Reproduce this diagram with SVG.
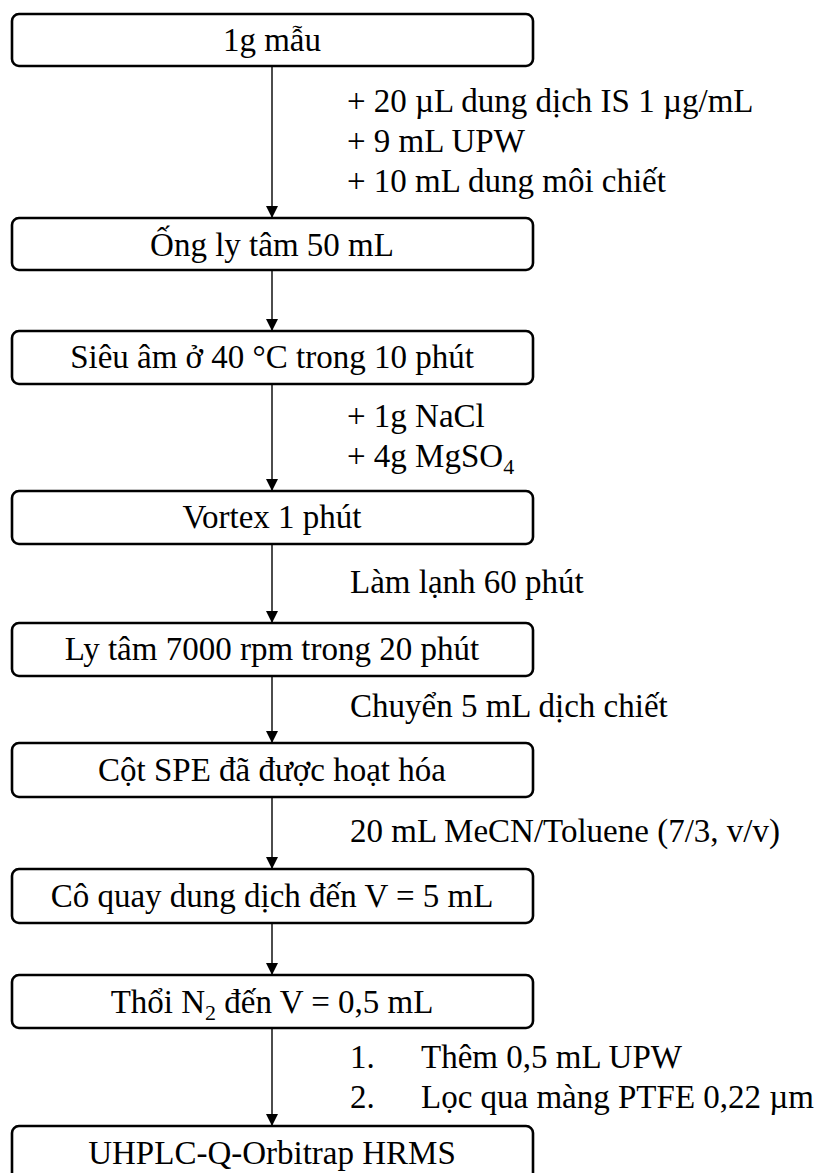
<svg xmlns="http://www.w3.org/2000/svg" width="821" height="1173" viewBox="0 0 821 1173">
  <defs>
    <marker id="arr" markerWidth="14" markerHeight="12" refX="14" refY="7" viewBox="0 0 14 14" markerUnits="userSpaceOnUse" orient="auto">
      <path d="M0,0 L14,7 L0,14 Z" fill="#000"/>
    </marker>
    <style>
      .box { fill: #fff; stroke: #000; stroke-width: 2.6; }
      .t { font-family: "Liberation Serif", "Times New Roman", serif; font-size: 33px; fill: #000; }
      .c { text-anchor: middle; }
      .con { stroke: #000; stroke-width: 1.4; fill: none; marker-end: url(#arr); }
    </style>
  </defs>
  <rect width="821" height="1173" fill="#fff"/>

  <g id="connectors">
    <line class="con" x1="272" y1="66" x2="272" y2="218"/>
    <line class="con" x1="272" y1="270" x2="272" y2="331"/>
    <line class="con" x1="272" y1="384" x2="272" y2="491"/>
    <line class="con" x1="272" y1="544" x2="272" y2="623"/>
    <line class="con" x1="272" y1="676" x2="272" y2="743"/>
    <line class="con" x1="272" y1="797" x2="272" y2="869"/>
    <line class="con" x1="272" y1="923" x2="272" y2="975"/>
    <line class="con" x1="272" y1="1028" x2="272" y2="1126"/>
  </g>

  <g id="labels">
    <text class="t" x="347" y="112">+ 20 µL dung dịch IS 1 µg/mL</text>
    <text class="t" x="347" y="152">+ 9 mL UPW</text>
    <text class="t" x="347" y="192">+ 10 mL dung môi chiết</text>
    <text class="t" x="347" y="427">+ 1g NaCl</text>
    <text class="t" x="347" y="467">+ 4g MgSO<tspan font-size="22" dy="7">4</tspan></text>
    <text class="t" x="350" y="593">Làm lạnh 60 phút</text>
    <text class="t" x="350" y="717">Chuyển 5 mL dịch chiết</text>
    <text class="t" x="350" y="842">20 mL MeCN/Toluene (7/3, v/v)</text>
    <text class="t" x="350" y="1068">1.</text>
    <text class="t" x="421" y="1068">Thêm 0,5 mL UPW</text>
    <text class="t" x="350" y="1108">2.</text>
    <text class="t" x="421" y="1108">Lọc qua màng PTFE 0,22 µm</text>
  </g>

  <g id="n1">
    <rect class="box" x="12" y="14" width="521" height="52" rx="7"/>
    <text class="t c" x="272" y="51">1g mẫu</text>
  </g>
  <g id="n2">
    <rect class="box" x="12" y="218" width="521" height="52" rx="7"/>
    <text class="t c" x="272" y="256">Ống ly tâm 50 mL</text>
  </g>
  <g id="n3">
    <rect class="box" x="12" y="331" width="521" height="53" rx="7"/>
    <text class="t c" x="272" y="368">Siêu âm ở 40 °C trong 10 phút</text>
  </g>
  <g id="n4">
    <rect class="box" x="12" y="491" width="521" height="53" rx="7"/>
    <text class="t c" x="272" y="528">Vortex 1 phút</text>
  </g>
  <g id="n5">
    <rect class="box" x="12" y="623" width="521" height="53" rx="7"/>
    <text class="t c" x="272" y="660">Ly tâm 7000 rpm trong 20 phút</text>
  </g>
  <g id="n6">
    <rect class="box" x="12" y="743" width="521" height="54" rx="7"/>
    <text class="t c" x="272" y="781">Cột SPE đã được hoạt hóa</text>
  </g>
  <g id="n7">
    <rect class="box" x="12" y="869" width="521" height="54" rx="7"/>
    <text class="t c" x="272" y="907">Cô quay dung dịch đến V = 5 mL</text>
  </g>
  <g id="n8">
    <rect class="box" x="12" y="975" width="521" height="53" rx="7"/>
    <text class="t c" x="272" y="1013">Thổi N<tspan font-size="22" dy="7">2</tspan><tspan dy="-7"> đến V = 0,5 mL</tspan></text>
  </g>
  <g id="n9">
    <rect class="box" x="12" y="1126" width="521" height="60" rx="7"/>
    <text class="t c" x="272" y="1164">UHPLC-Q-Orbitrap HRMS</text>
  </g>
</svg>
